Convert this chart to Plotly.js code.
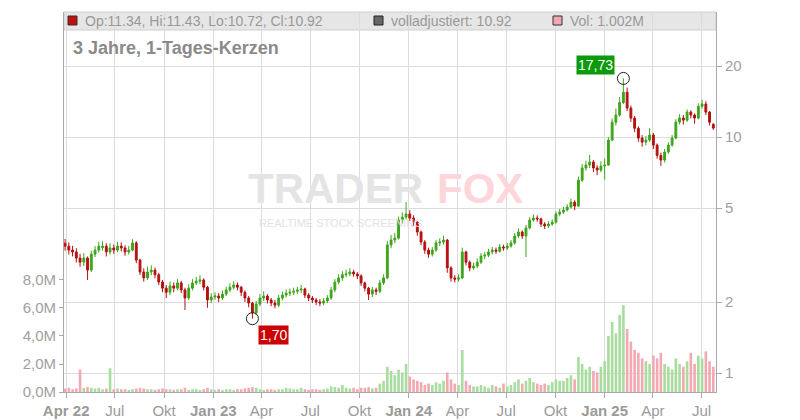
<!DOCTYPE html>
<html><head><meta charset="utf-8">
<script src="https://cdn.plot.ly/plotly-3.0.1.min.js"></script>
<style>html,body{margin:0;padding:0;background:#fff}#chart{width:800px;height:420px}</style>
</head><body><div id="chart"></div>
<script>
// Weekly candles (open, high, low, close)
const openP = [3.55,3.45,3.32,3.26,3.07,2.95,3.07,2.73,3.19,3.32,
 3.40,3.45,3.26,3.39,3.32,3.45,3.39,3.26,3.32,3.56,
 3.01,2.68,2.53,2.68,2.73,2.61,2.43,2.29,2.20,2.34,
 2.29,2.41,2.25,2.08,2.29,2.41,2.45,2.48,2.31,2.04,
 2.10,2.12,2.08,2.16,2.25,2.31,2.36,2.31,2.20,2.08,
 1.98,1.80,1.96,2.08,2.12,2.04,1.98,1.94,2.08,2.14,
 2.18,2.20,2.22,2.25,2.27,2.14,2.08,2.04,2.00,1.98,
 2.02,2.08,2.25,2.43,2.53,2.61,2.63,2.68,2.63,2.58,
 2.41,2.29,2.16,2.25,2.22,2.41,2.53,3.49,3.66,3.73,
 4.45,4.58,4.72,4.54,4.36,3.96,3.59,3.32,3.19,3.32,
 3.56,3.59,3.66,2.79,2.53,2.50,2.53,3.26,2.95,2.79,
 2.84,2.95,3.13,3.16,3.26,3.32,3.28,3.42,3.39,3.45,
 3.56,3.81,3.96,3.81,4.12,4.45,4.54,4.50,4.28,4.20,
 4.28,4.36,4.72,4.81,4.91,5.05,5.30,5.10,6.57,7.40,
 7.61,7.84,7.40,7.25,7.54,7.61,9.71,11.57,12.40,14.00,
 15.50,13.27,12.04,10.90,9.90,9.52,9.71,10.20,9.25,8.36,
 7.99,8.64,9.25,9.90,11.57,12.04,11.80,12.76,12.40,12.04,
 13.50,13.80,12.76,11.34];
const highP = [3.70,3.58,3.46,3.38,3.20,3.22,3.12,3.30,3.45,3.60,
 3.62,3.55,3.55,3.50,3.60,3.58,3.48,3.46,3.69,3.62,
 3.05,2.78,2.82,2.86,2.80,2.66,2.48,2.36,2.44,2.42,
 2.50,2.46,2.30,2.38,2.50,2.56,2.60,2.52,2.34,2.18,
 2.20,2.18,2.24,2.32,2.40,2.45,2.42,2.34,2.24,2.12,
 2.00,2.02,2.16,2.22,2.16,2.08,2.04,2.14,2.22,2.26,
 2.28,2.30,2.32,2.36,2.30,2.18,2.12,2.08,2.06,2.08,
 2.14,2.32,2.50,2.62,2.70,2.74,2.78,2.74,2.68,2.62,
 2.44,2.32,2.32,2.30,2.48,2.62,3.62,3.85,3.92,4.60,
 4.80,5.30,4.90,4.66,4.40,4.02,3.66,3.40,3.42,3.66,
 3.72,3.82,3.70,2.84,2.60,2.62,3.40,3.30,3.00,2.94,
 3.06,3.22,3.26,3.36,3.42,3.40,3.52,3.50,3.56,3.66,
 3.92,4.10,4.02,4.24,4.58,4.70,4.66,4.56,4.36,4.40,
 4.48,4.84,4.96,5.06,5.20,5.48,5.40,6.80,7.70,7.95,
 8.40,8.00,7.60,7.90,8.10,10.0,12.0,13.2,14.8,17.73,
 16.2,13.6,12.3,11.1,10.2,10.1,10.9,10.4,9.40,8.60,
 8.90,9.50,10.2,11.9,12.5,12.4,13.1,13.0,12.6,13.9,
 14.4,14.2,12.9,11.43];
const lowP = [3.30,3.18,3.12,2.94,2.82,2.84,2.48,2.68,3.10,3.24,
 3.30,3.12,3.18,3.20,3.25,3.28,3.14,3.18,3.28,2.92,
 2.60,2.44,2.48,2.60,2.52,2.36,2.20,2.08,2.14,2.20,
 2.24,2.18,1.85,2.04,2.24,2.36,2.38,2.24,1.89,1.98,
 2.04,2.00,2.04,2.12,2.20,2.26,2.24,2.12,2.00,1.90,
 1.70,1.76,1.92,2.02,1.97,1.92,1.88,1.90,2.03,2.09,
 2.12,2.14,2.16,2.18,2.08,2.02,1.98,1.94,1.92,1.94,
 1.98,2.04,2.20,2.38,2.46,2.54,2.57,2.56,2.50,2.34,
 2.22,2.04,2.10,2.14,2.18,2.36,2.50,3.38,3.55,3.68,
 4.30,4.48,4.40,4.20,3.82,3.48,3.20,3.08,3.12,3.26,
 3.45,3.50,2.66,2.44,2.42,2.44,2.50,2.86,2.70,2.74,
 2.78,2.90,3.04,3.10,3.18,3.20,3.24,3.30,3.32,3.40,
 3.50,3.74,3.70,3.10,4.06,4.38,4.38,4.16,4.08,4.12,
 4.20,4.30,4.62,4.72,4.84,4.98,4.90,5.05,6.45,7.20,
 7.40,7.10,6.90,7.10,6.60,7.55,9.60,11.2,12.2,13.8,
 12.9,11.6,10.5,9.55,9.10,9.20,9.55,8.90,8.10,7.55,
 7.80,8.50,9.10,9.80,11.3,11.3,11.6,12.0,11.4,11.9,
 13.2,12.4,11.2,10.72];
const closeP = [3.45,3.32,3.26,3.07,2.95,3.07,2.73,3.19,3.32,3.45,
 3.45,3.26,3.39,3.32,3.45,3.39,3.26,3.32,3.56,3.01,
 2.68,2.53,2.68,2.73,2.61,2.43,2.29,2.20,2.34,2.29,
 2.41,2.25,2.08,2.29,2.41,2.45,2.48,2.31,2.04,2.10,
 2.12,2.08,2.16,2.25,2.31,2.36,2.31,2.20,2.08,1.98,
 1.80,1.96,2.08,2.12,2.04,1.98,1.94,2.08,2.14,2.18,
 2.20,2.22,2.25,2.27,2.14,2.08,2.04,2.00,1.98,2.02,
 2.08,2.25,2.43,2.53,2.61,2.63,2.68,2.63,2.58,2.41,
 2.29,2.16,2.25,2.22,2.41,2.53,3.49,3.66,3.73,4.45,
 4.58,4.72,4.54,4.36,3.96,3.59,3.32,3.19,3.32,3.56,
 3.59,3.66,2.79,2.53,2.50,2.53,3.26,2.95,2.79,2.84,
 2.95,3.13,3.16,3.26,3.32,3.28,3.42,3.39,3.45,3.56,
 3.81,3.96,3.81,4.12,4.45,4.54,4.50,4.28,4.20,4.28,
 4.36,4.72,4.81,4.91,5.05,5.30,5.10,6.57,7.40,7.61,
 7.84,7.40,7.25,7.54,7.61,9.71,11.57,12.40,14.00,15.50,
 13.27,12.04,10.90,9.90,9.52,9.71,10.20,9.25,8.36,7.99,
 8.64,9.25,9.90,11.57,12.04,11.80,12.76,12.40,12.04,13.50,
 13.80,12.76,11.57,10.92];
// Volume in millions (per candle)
const volumeM = [0.25,0.3,0.2,0.25,1.6,0.3,0.35,0.3,0.25,0.3,
 0.2,0.25,1.7,0.2,0.25,0.2,0.2,0.15,0.2,0.25,
 0.3,0.25,0.2,0.2,0.15,0.2,0.25,0.2,0.2,0.15,
 0.2,0.2,0.3,0.15,0.2,0.2,0.15,0.2,0.3,0.2,
 0.15,0.2,0.15,0.2,0.2,0.15,0.2,0.2,0.25,0.3,
 0.35,0.3,0.2,0.15,0.2,0.2,0.15,0.2,0.2,0.3,
 0.25,0.2,0.2,0.3,0.2,0.15,0.2,0.2,0.15,0.2,
 0.25,0.4,0.35,0.3,0.5,0.3,0.25,0.3,0.2,0.3,
 0.3,0.35,0.25,0.3,0.6,0.8,1.8,1.5,1.2,1.6,
 1.4,2.0,1.1,0.9,0.8,0.7,0.5,0.6,0.5,0.7,
 0.6,0.8,1.4,0.9,0.6,0.5,3.0,0.8,0.5,0.4,
 0.4,0.5,0.4,0.3,0.5,0.4,0.3,0.6,0.4,0.5,
 0.7,0.9,0.6,0.8,1.0,0.7,0.6,0.5,0.6,0.5,
 0.7,0.9,0.8,0.8,1.0,1.2,0.9,2.5,2.0,1.6,
 1.8,1.5,1.4,1.8,2.2,4.0,5.0,4.2,5.5,6.2,
 4.5,3.6,3.0,2.8,2.4,2.2,2.0,2.6,2.4,2.8,
 2.0,1.8,1.6,2.4,2.0,1.8,2.2,2.8,2.0,2.6,
 2.4,2.9,2.2,1.8];
const firstCandle = '2022-03-30';
const tickDates = ['2022-04-01','2022-07-01','2022-10-01','2023-01-01','2023-04-01','2023-07-01','2023-10-01','2024-01-01','2024-04-01','2024-07-01','2024-10-01','2025-01-01','2025-04-01','2025-07-01'];
const tickLabels = ['<b>Apr 22</b>','Jul','Okt','<b>Jan 23</b>','Apr','Jul','Okt','<b>Jan 24</b>','Apr','Jul','Okt','<b>Jan 25</b>','Apr','Jul'];
const priceTicks = [1,2,5,10,20];
const volTicks = [0,2,4,6,8];
const volTickLabels = ['0,0M','2,0M','4,0M','6,0M','8,0M'];
const legendTexts = ['Op:11.34, Hi:11.43, Lo:10.72, Cl:10.92','volladjustiert: 10.92','Vol: 1.002M'];
const titleText = '3 Jahre, 1-Tages-Kerzen';
const hiLabel = '17,73', loLabel = '1,70';

// candle dates (one per week)
const t0 = Date.parse(firstCandle + 'T00:00:00Z');
const dates = openP.map((_, i) => new Date(t0 + i * 7 * 86400000).toISOString().slice(0, 10));
const volColors = openP.map((o, i) => closeP[i] >= o ? '#a9dda0' : '#f3a9b2');

// extremes
let hiIdx = 0, loIdx = 0;
highP.forEach((v, i) => { if (v > highP[hiIdx]) hiIdx = i; });
lowP.forEach((v, i) => { if (v < lowP[loIdx]) loIdx = i; });

const FONT = '"Liberation Sans", Arial, sans-serif';
const traces = [
  { type: 'bar', x: dates, y: volumeM, yaxis: 'y', marker: { color: volColors, line: { width: 0 } }, hoverinfo: 'skip' },
  { type: 'candlestick', x: dates, open: openP, high: highP, low: lowP, close: closeP, yaxis: 'y2',
    increasing: { line: { color: '#3ea41c', width: 1 }, fillcolor: '#3ea41c' },
    decreasing: { line: { color: '#b51010', width: 1 }, fillcolor: '#b51010' },
    whiskerwidth: 0, hoverinfo: 'skip' },
  { type: 'scatter', mode: 'markers', x: [dates[hiIdx], dates[loIdx]], y: [highP[hiIdx], lowP[loIdx]], yaxis: 'y2',
    marker: { symbol: 'circle-open', size: 12, color: '#222', line: { width: 1 } }, hoverinfo: 'skip' }
];

const px = v => (v - 64) / 652, py = v => (392 - v) / 380;
const shapes = [
  { type: 'rect', xref: 'paper', yref: 'paper', x0: 0, x1: 1, y0: py(30), y1: 1, fillcolor: '#e6e6e6', line: { color: '#cfcfcf', width: 1 }, layer: 'below' },
  { type: 'rect', xref: 'paper', yref: 'paper', x0: px(68), x1: px(77), y0: py(25), y1: py(16), fillcolor: '#c01010', line: { color: '#333', width: 1 } },
  { type: 'rect', xref: 'paper', yref: 'paper', x0: px(374), x1: px(383), y0: py(25), y1: py(16), fillcolor: '#666', line: { color: '#222', width: 1 } },
  { type: 'rect', xref: 'paper', yref: 'paper', x0: px(553), x1: px(562), y0: py(25), y1: py(16), fillcolor: '#f0a8b0', line: { color: '#333', width: 1 } }
];
const annotations = [
  { xref: 'paper', yref: 'paper', x: px(83), y: py(21), xanchor: 'left', yanchor: 'middle', text: legendTexts[0], showarrow: false, font: { family: FONT, size: 14, color: '#999' } },
  { xref: 'paper', yref: 'paper', x: px(389), y: py(21), xanchor: 'left', yanchor: 'middle', text: legendTexts[1], showarrow: false, font: { family: FONT, size: 14, color: '#999' } },
  { xref: 'paper', yref: 'paper', x: px(568), y: py(21), xanchor: 'left', yanchor: 'middle', text: legendTexts[2], showarrow: false, font: { family: FONT, size: 14, color: '#999' } },
  { xref: 'paper', yref: 'paper', x: px(335), y: py(188), xanchor: 'center', yanchor: 'middle', text: '<b>TRADER</b>', showarrow: false, font: { family: FONT, size: 42, color: '#e4e4e4' } },
  { xref: 'paper', yref: 'paper', x: px(480), y: py(188), xanchor: 'center', yanchor: 'middle', text: '<b>FOX</b>', showarrow: false, font: { family: FONT, size: 42, color: '#fcd6da' } },
  { xref: 'paper', yref: 'paper', x: px(340), y: py(223), xanchor: 'center', yanchor: 'middle', text: 'REALTIME STOCK SCREENING', showarrow: false, font: { family: FONT, size: 11, color: '#e2e2e2' } },
  { xref: 'x', yref: 'y2', x: dates[hiIdx], y: Math.log10(highP[hiIdx]), text: hiLabel, showarrow: true, arrowcolor: 'rgba(0,0,0,0)', ax: -28, ay: -13,
    bgcolor: '#0a9a0a', borderpad: 1, font: { family: FONT, size: 14, color: '#fff' } },
  { xref: 'x', yref: 'y2', x: dates[loIdx], y: Math.log10(lowP[loIdx]), text: loLabel, showarrow: true, arrowcolor: 'rgba(0,0,0,0)', ax: 21, ay: 16,
    bgcolor: '#cc0000', borderpad: 1, font: { family: FONT, size: 14, color: '#fff' } }
];

const layout = {
  width: 800, height: 420,
  margin: { l: 64, r: 84, t: 12, b: 28 },
  paper_bgcolor: '#fff', plot_bgcolor: '#fff',
  showlegend: false, hovermode: false, bargap: 0.3,
  font: { family: FONT, color: '#999' },
  title: { text: '<b>' + titleText + '</b>', x: 73 / 800, xanchor: 'left', y: 1 - 48 / 420, yanchor: 'middle', xref: 'container', yref: 'container',
    font: { family: FONT, size: 18, color: '#8a8a8a' } },
  xaxis: { type: 'date', range: ['2022-03-28', '2025-07-28'], tickvals: tickDates, ticktext: tickLabels,
    showgrid: true, gridcolor: '#dcdcdc', gridwidth: 1, ticks: 'outside', ticklen: 5, tickcolor: '#aaa',
    showline: true, linecolor: '#aaa', linewidth: 1, zeroline: false, rangeslider: { visible: false },
    tickfont: { family: FONT, size: 15, color: '#9a9a9a' } },
  yaxis: { range: [0, 27.14], side: 'left', tickvals: volTicks, ticktext: volTickLabels, showgrid: false, zeroline: false,
    showline: true, linecolor: '#aaa', ticks: 'outside', ticklen: 4, tickcolor: '#aaa',
    tickfont: { family: FONT, size: 15, color: '#a0a0a0' } },
  yaxis2: { type: 'log', overlaying: 'y', side: 'right', range: [Math.log10(0.831), Math.log10(33.9)], tickvals: priceTicks, ticktext: priceTicks.map(String),
    showgrid: true, gridcolor: '#dcdcdc', zeroline: false, showline: true, linecolor: '#aaa', ticks: 'outside', ticklen: 5, tickcolor: '#aaa',
    tickfont: { family: FONT, size: 15, color: '#a0a0a0' } },
  shapes, annotations
};
Plotly.newPlot('chart', traces, layout, { displayModeBar: false, staticPlot: true });
</script></body></html>
